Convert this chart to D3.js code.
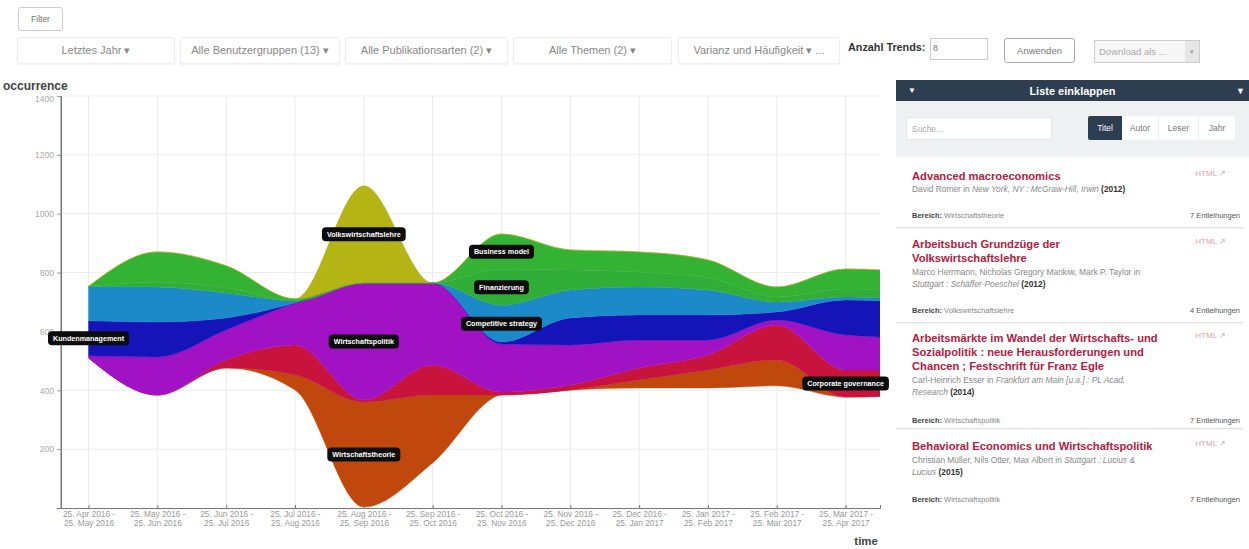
<!DOCTYPE html>
<html><head><meta charset="utf-8">
<script src="https://cdn.jsdelivr.net/npm/d3@7"></script>
<style>
body{margin:0;width:1249px;height:549px;overflow:hidden;background:#fff;font-family:"Liberation Sans",Arial,sans-serif;position:relative;color:#555}
.abs{position:absolute;box-sizing:border-box}
.btn{border:1px solid #ccc;border-radius:3px;background:#fff;font-size:8.5px;color:#777;display:flex;align-items:center;justify-content:center}
.dd{border:1px solid #eee;box-shadow:0 1px 2px rgba(0,0,0,0.06);border-radius:2px;font-size:11px;color:#888;display:flex;align-items:center;justify-content:center;background:#fff;top:37px;height:27px}
#panel .hdr{left:896px;top:80px;width:353px;height:21px;background:#2c3e50;color:#fff;font-weight:bold;font-size:11px;display:flex;align-items:center;justify-content:center}
.tools{left:896px;top:101px;width:353px;height:56px;background:#eef0f2}
.tb{font-size:8.5px;color:#777;background:#fff;display:flex;align-items:center;justify-content:center;top:116px;height:24px}
.entry{left:896px;width:347px;border-bottom:1px solid #e2e2e2;box-shadow:0 1px 1px rgba(0,0,0,0.04)}
.ttl{position:absolute;left:16px;color:#b0213f;font-weight:bold;font-size:11.2px;line-height:14px;white-space:nowrap}
.au{position:absolute;left:16px;color:#888;font-size:8.4px;line-height:12px;white-space:nowrap}
.au b{color:#333}
.ber{position:absolute;left:16px;font-size:7.5px;color:#888}
.ber b{color:#444}
.ent{position:absolute;right:3px;font-size:7.5px;color:#555}
.html{position:absolute;right:17px;font-size:8px;color:#e0a0a8}
</style></head><body>
<div class="abs btn" style="left:18px;top:7px;width:45px;height:24px;">Filter</div>
<div class="abs dd" style="left:17px;width:158px;">Letztes Jahr ▾</div>
<div class="abs dd" style="left:180px;width:160px;">Alle Benutzergruppen (13) ▾</div>
<div class="abs dd" style="left:345px;width:163px;">Alle Publikationsarten (2) ▾</div>
<div class="abs dd" style="left:513px;width:159px;">Alle Themen (2) ▾</div>
<div class="abs dd" style="left:678px;width:162px;">Varianz und Häufigkeit ▾ ...</div>
<div class="abs" style="left:848px;top:41px;font-size:10.8px;font-weight:bold;color:#333">Anzahl Trends:</div>
<div class="abs" style="left:930px;top:38px;width:58px;height:22px;border:1px solid #ccc;font-size:9px;color:#777;padding:4px 2px">8</div>
<div class="abs btn" style="left:1004px;top:38px;width:71px;height:25px;border-color:#aaa;font-size:9.5px">Anwenden</div>
<div class="abs" style="left:1094px;top:40px;width:106px;height:23px;border:1px solid #ccc;background:#f7f7f7;font-size:9.5px;color:#aaa;padding:5px 4px">Download als ...</div>
<div class="abs" style="left:1185px;top:41px;width:14px;height:21px;background:#e6e6e6;font-size:7px;color:#999;display:flex;align-items:center;justify-content:center">▾</div>

<svg id="chart" class="abs" style="left:0;top:0" width="890" height="549"></svg>

<div id="panel">
 <div class="abs hdr"><span style="position:absolute;left:12px;font-size:8px">▼</span>Liste einklappen<span style="position:absolute;right:4px;font-size:9px">▼</span></div>
 <div class="abs tools"></div>
 <div class="abs" style="left:906px;top:117px;width:146px;height:23px;background:#fff;border:1px solid #e4e4e4;font-size:8.5px;color:#aaa;padding:6px 5px">Suche...</div>
 <div class="abs tb" style="left:1088px;width:34px;background:#2c3e50;color:#fff;border-radius:2px 0 0 2px">Titel</div>
 <div class="abs tb" style="left:1122px;width:36px;">Autor</div>
 <div class="abs tb" style="left:1158px;width:40px;border-left:1px solid #eee">Leser</div>
 <div class="abs tb" style="left:1198px;width:37px;border-left:1px solid #eee">Jahr</div>

 <div class="abs entry" style="top:162px;height:66px">
  <div class="ttl" style="top:7px">Advanced macroeconomics</div>
  <div class="html" style="top:7px">HTML ↗</div>
  <div class="au" style="top:21px">David Romer in <i>New York, NY : McGraw-Hill, Irwin</i> <b>(2012)</b></div>
  <div class="ber" style="top:49px"><b>Bereich:</b> Wirtschaftstheorie</div>
  <div class="ent" style="top:49px">7 Entleihungen</div>
 </div>
 <div class="abs entry" style="top:229px;height:94px">
  <div class="ttl" style="top:8px">Arbeitsbuch Grundzüge der<br>Volkswirtschaftslehre</div>
  <div class="html" style="top:8px">HTML ↗</div>
  <div class="au" style="top:37px">Marco Herrmann, Nicholas Gregory Mankiw, Mark P. Taylor in<br><i>Stuttgart : Schäffer-Poeschel</i> <b>(2012)</b></div>
  <div class="ber" style="top:77px"><b>Bereich:</b> Volkswirtschaftslehre</div>
  <div class="ent" style="top:77px">4 Entleihungen</div>
 </div>
 <div class="abs entry" style="top:324px;height:105px">
  <div class="ttl" style="top:7px">Arbeitsmärkte im Wandel der Wirtschafts- und<br>Sozialpolitik : neue Herausforderungen und<br>Chancen ; Festschrift für Franz Egle</div>
  <div class="html" style="top:7px">HTML ↗</div>
  <div class="au" style="top:50px">Carl-Heinrich Esser in <i>Frankfurt am Main [u.a.] : PL Acad.<br>Research</i> <b>(2014)</b></div>
  <div class="ber" style="top:92px"><b>Bereich:</b> Wirtschaftspolitik</div>
  <div class="ent" style="top:92px">7 Entleihungen</div>
 </div>
 <div class="abs entry" style="top:430px;height:82px;border-bottom:none;box-shadow:none">
  <div class="ttl" style="top:9px">Behavioral Economics und Wirtschaftspolitik</div>
  <div class="html" style="top:9px">HTML ↗</div>
  <div class="au" style="top:24px">Christian Müller, Nils Otter, Max Albert in <i>Stuttgart : Lucius &amp;<br>Lucius</i> <b>(2015)</b></div>
  <div class="ber" style="top:65px"><b>Bereich:</b> Wirtschaftspolitik</div>
  <div class="ent" style="top:65px">7 Entleihungen</div>
 </div>
</div>

<script>
// ---- data ----
const periodLabels = [
 ["25. Apr 2016 -","25. May 2016"],["25. May 2016 -","25. Jun 2016"],["25. Jun 2016 -","25. Jul 2016"],
 ["25. Jul 2016 -","25. Aug 2016"],["25. Aug 2016 -","25. Sep 2016"],["25. Sep 2016 -","25. Oct 2016"],
 ["25. Oct 2016 -","25. Nov 2016"],["25. Nov 2016 -","25. Dec 2016"],["25. Dec 2016 -","25. Jan 2017"],
 ["25. Jan 2017 -","25. Feb 2017"],["25. Feb 2017 -","25. Mar 2017"],["25. Mar 2017 -","25. Apr 2017"]
];
const periodIndex = [0,1,2,3,4,5,6,7,8,9,10,11,12];
const yTicks = [200,400,600,800,1000,1200,1400];
const topics = ["Wirtschaftstheorie","Corporate governance","Wirtschaftspolitik","Kundenmanagement",
                "Competitive strategy","Finanzierung","Business model","Volkswirtschaftslehre"];
const topicColors = ["#c0480c","#c8143c","#a012c4","#1414b8","#1c8ac8","#30ae38","#34b234","#b4b414"];
const streamBaseline = [510,384,476,401,3,153,384,401,408,408,415,377,384];
const vWirtschaftstheorie   = [0,0,0,51,357,231,0,0,27,61,88,0,0];
const vCorporateGovernance  = [0,0,27,102,7,102,10,17,41,51,119,92,85];
const vWirtschaftspolitik   = [7,129,102,143,398,279,163,136,95,51,17,119,109];
const vKundenmanagement     = [119,119,41,0,0,0,7,92,85,85,27,119,119];
const vCompetitiveStrategy  = [117,119,85,7,0,0,125,95,95,85,34,10,10];
const vFinanzierung         = [0,17,17,0,0,0,122,68,51,41,17,27,27];
const vBusinessModel        = [0,102,75,7,0,0,120,68,68,61,34,68,68];
const vVolkswirtschaftslehre= [0,0,0,0,330,0,0,0,0,0,0,0,0];
const labelIndex = [4,11,4,0,6,6,6,4];

const seriesValues = [vWirtschaftstheorie,vCorporateGovernance,vWirtschaftspolitik,vKundenmanagement,
  vCompetitiveStrategy,vFinanzierung,vBusinessModel,vVolkswirtschaftslehre];

// ---- chart ----
const svg = d3.select("#chart");
const x = d3.scaleLinear().domain([-0.4,11.5]).range([61,880]);
const y = d3.scaleLinear().domain([0,1400]).range([508,96]);

const rows = periodIndex.map(i => {
  const r = {i};
  topics.forEach((t,k)=> r[t] = seriesValues[k][i]);
  return r;
});
const stack = d3.stack().keys(topics)(rows);

// grid
const g = svg.append("g");
g.selectAll(".hg").data(yTicks).join("line")
  .attr("x1",61).attr("x2",880).attr("y1",d=>y(d)).attr("y2",d=>y(d))
  .attr("stroke","#ebebeb").attr("stroke-width",1);
g.selectAll(".vg").data(d3.range(12)).join("line")
  .attr("x1",d=>x(d)).attr("x2",d=>x(d)).attr("y1",96).attr("y2",508)
  .attr("stroke","#ebebeb").attr("stroke-width",1);

svg.append("clipPath").attr("id","clip").append("rect")
  .attr("x",61).attr("y",90).attr("width",819).attr("height",418);

const area = d3.area()
  .x(d=>x(d.data.i))
  .y0(d=>y(d[0]+streamBaseline[d.data.i]))
  .y1(d=>y(d[1]+streamBaseline[d.data.i]))
  .curve(d3.curveMonotoneX);

svg.append("g").attr("clip-path","url(#clip)")
  .selectAll("path").data(stack).join("path")
  .attr("d",area).attr("fill",(d,k)=>topicColors[k])
  .attr("stroke",(d,k)=>topicColors[k]).attr("stroke-width",0.4);

// axes
const yAxis = d3.axisLeft(y).tickValues(yTicks).tickSize(4).tickPadding(3).tickFormat(d3.format("d"));
const ya = svg.append("g").attr("transform","translate(61,0)").call(yAxis);
ya.select(".domain").attr("stroke","#777");
ya.selectAll(".tick line").attr("stroke","#999");
ya.selectAll("text").attr("fill","#aaa").style("font-size","8.5px").style("font-family","Liberation Sans, Arial");
ya.selectAll(".tick text").filter(d=>d===1400).attr("dy","0.6em");
svg.append("line").attr("x1",61).attr("x2",61).attr("y1",96).attr("y2",508).attr("stroke","#777");

const xAxis = d3.axisBottom(x).tickValues(d3.range(12)).tickSize(-3).tickFormat("");
const xa = svg.append("g").attr("transform","translate(0,508)").call(xAxis);
xa.select(".domain").attr("stroke","#777");
xa.selectAll(".tick line").attr("stroke","#777");
xa.selectAll(".tick").each(function(d){
  const t = d3.select(this).append("text").attr("fill","#999").attr("text-anchor","middle")
    .style("font-size","8.3px").style("font-family","Liberation Sans, Arial");
  t.append("tspan").attr("x",0).attr("y",3).attr("dy","0.71em").text(periodLabels[d][0]);
  t.append("tspan").attr("x",0).attr("y",12).attr("dy","0.71em").text(periodLabels[d][1]);
});

svg.append("text").attr("x",3).attr("y",90).text("occurrence")
  .attr("fill","#444").style("font-weight","bold").style("font-size","12px");
svg.append("text").attr("x",878).attr("y",545).attr("text-anchor","end").text("time")
  .attr("fill","#444").style("font-weight","bold").style("font-size","11.5px");

// labels
const lab = svg.append("g");
stack.forEach((s,k)=>{
  const i = labelIndex[k];
  const d = s[i];
  const cx = x(i), cy = y((d[0]+d[1])/2 + streamBaseline[i]);
  const gg = lab.append("g").attr("transform",`translate(${cx},${cy})`);
  const t = gg.append("text").attr("text-anchor","middle").attr("dy","0.35em")
    .attr("fill","#fff").style("font-weight","bold").style("font-size","7.2px").text(topics[k]);
  const w = t.node().getComputedTextLength();
  gg.insert("rect","text").attr("x",-w/2-5).attr("y",-7).attr("width",w+10).attr("height",14)
    .attr("rx",4).attr("fill","#0c0c0c");
});
</script>
</body></html>
